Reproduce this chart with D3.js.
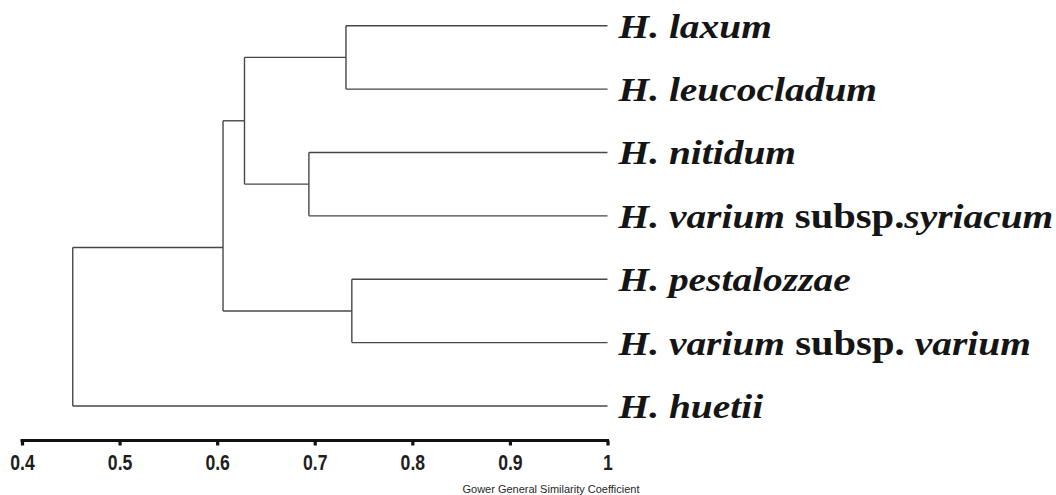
<!DOCTYPE html>
<html><head><meta charset="utf-8">
<script src="https://cdn.jsdelivr.net/npm/d3@7"></script>
<style>
html,body{margin:0;padding:0;background:#fff;}
svg{display:block;}
</style></head>
<body>
<svg id="chart" width="1056" height="495"></svg>
<script>
// ---- data ----
const leaves = ["laxum","leucocladum","nitidum","syriacum","pestalozzae","varium","huetii"];
const leafLabels = [
  [["H. laxum","i"]],
  [["H. leucocladum","i"]],
  [["H. nitidum","i"]],
  [["H. varium ","i"],["subsp.","b"],["syriacum","i"]],
  [["H. pestalozzae","i"]],
  [["H. varium","i"],[" subsp. ","b"],["varium","i"]],
  [["H. huetii","i"]]
];
const leafSimilarity = [1,1,1,1,1,1,1];
const clusterIds      = ["A","B","C","D","E","root"];
const clusterChildren = [["laxum","leucocladum"],["nitidum","syriacum"],["A","B"],["pestalozzae","varium"],["C","D"],["E","huetii"]];
const clusterHeights  = [0.732, 0.694, 0.628, 0.738, 0.606, 0.452];
const clusterStemRow  = [null, null, null, null, 3.5, null]; // row (in leaf units) where the stem attaches; null = midpoint
const tickValues = [0.4,0.5,0.6,0.7,0.8,0.9,1];
const tickLabels = ["0.4","0.5","0.6","0.7","0.8","0.9","1"];
const axisTitle = "Gower General Similarity Coefficient";

// ---- scales ----
const svg = d3.select("#chart");
const x = d3.scaleLinear().domain([0.4,1]).range([22,607.5]);
const y = d3.scaleLinear().domain([0,leaves.length-1]).range([25.7,406]);

// node table
const nodes = {};
leaves.forEach((l,i)=>{ nodes[l] = {row:i, h:leafSimilarity[i]}; });
clusterIds.forEach((id,i)=>{
  const ch = clusterChildren[i].map(c=>nodes[c]);
  const mid = (ch[0].row + ch[1].row)/2;
  nodes[id] = {row: clusterStemRow[i]!=null ? clusterStemRow[i] : mid, h: clusterHeights[i], ch};
});

const g = svg.append("g");
const lineColor = "#474747";
clusterIds.forEach((id)=>{
  const n = nodes[id];
  const xs = x(n.h);
  g.append("line").attr("x1",xs).attr("x2",xs)
    .attr("y1",y(n.ch[0].row)).attr("y2",y(n.ch[1].row))
    .attr("stroke",lineColor).attr("stroke-width",1.4);
  n.ch.forEach(c=>{
    g.append("line").attr("x1",xs).attr("x2",x(c.h))
      .attr("y1",y(c.row)).attr("y2",y(c.row))
      .attr("stroke",lineColor).attr("stroke-width",1.4);
  });
});

// leaf labels
const labelScale = 1.16;
leaves.forEach((l,i)=>{
  const lx = x(leafSimilarity[i]) + 11;
  const ly = y(i) + 12;
  const t = svg.append("text")
    .attr("transform",`translate(${lx},${ly}) scale(${labelScale},1)`)
    .attr("font-family","'Liberation Serif','Times New Roman',serif")
    .attr("font-size",34).attr("font-weight","bold").attr("fill","#151515")
    .style("white-space","pre");
  leafLabels[i].forEach(([txt,st])=>{
    t.append("tspan").text(txt)
      .attr("font-style", st==="i" ? "italic" : "normal")
      .attr("font-size", st==="i" ? 34 : 35);
  });
});

// axis
const axisY = 440.5;
const axis = d3.axisBottom(x).tickValues(tickValues)
  .tickFormat((d,i)=>tickLabels[i]).tickSize(5).tickSizeOuter(0).tickPadding(9);
const ag = svg.append("g").attr("transform",`translate(0,${axisY})`).call(axis);
ag.select(".domain").attr("stroke","#111").attr("stroke-width",3.2)
  .attr("d",`M${x(0.4)-1.5},0H${x(1)+1.5}`);
ag.selectAll(".tick line").attr("stroke","#111").attr("stroke-width",3.2);
ag.selectAll(".tick text")
  .attr("font-family","'Liberation Sans',Arial,sans-serif")
  .attr("font-weight","bold").attr("font-size",22).attr("fill","#1e1e1e")
  .attr("transform","scale(0.8,1)");

svg.append("text").text(axisTitle)
  .attr("x",551).attr("y",493).attr("text-anchor","middle")
  .attr("font-family","'Liberation Sans',Arial,sans-serif")
  .attr("font-size",10.5).attr("fill","#262626")
  .attr("textLength",177).attr("lengthAdjust","spacingAndGlyphs");
</script>
</body></html>
